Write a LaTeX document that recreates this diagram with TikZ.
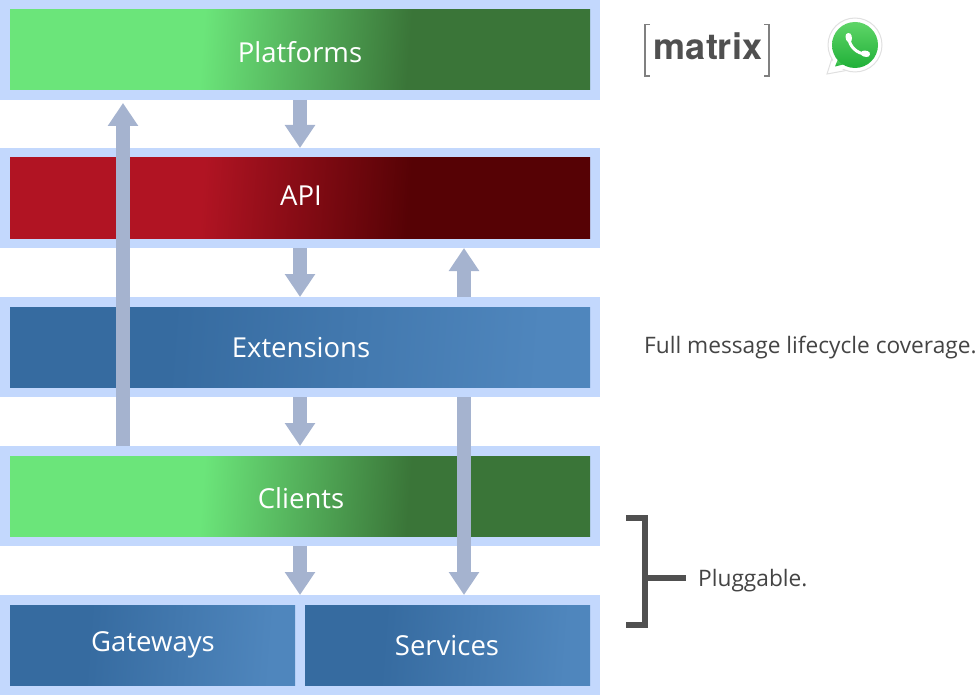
\documentclass[tikz,border=0pt]{standalone}
\usepackage{fontspec}
\setmainfont{Open Sans}
\newfontfamily\logofont{TeX Gyre Heros}
\usetikzlibrary{arrows.meta}

\definecolor{bandblue}{HTML}{C3D8FD}
\definecolor{flowblue}{HTML}{A5B3CF}
\definecolor{lightgreen}{HTML}{6BE57A}
\definecolor{darkgreen}{HTML}{3A7538}
\definecolor{lightred}{HTML}{B11423}
\definecolor{darkred}{HTML}{560205}
\definecolor{darkblue}{HTML}{366BA0}
\definecolor{lightblue}{HTML}{4F86BD}
\definecolor{textgrey}{HTML}{444444}
\definecolor{brackgrey}{HTML}{505050}
\definecolor{logotop}{HTML}{5FD568}
\definecolor{logobottom}{HTML}{20B038}

\pgfdeclarehorizontalshading{greenfade}{100bp}{color(0bp)=(lightgreen); color(41bp)=(lightgreen); color(60bp)=(darkgreen); color(100bp)=(darkgreen)}
\pgfdeclarehorizontalshading{redfade}{100bp}{color(0bp)=(lightred); color(41bp)=(lightred); color(60bp)=(darkred); color(100bp)=(darkred)}
\pgfdeclarehorizontalshading{bluefade}{100bp}{color(0bp)=(darkblue); color(38bp)=(darkblue); color(72bp)=(lightblue); color(100bp)=(lightblue)}

\tikzset{
  layerbar/.style={fill=bandblue, minimum width=600pt, minimum height=100pt, inner sep=0pt, outer sep=0pt},
  layerbox/.style={minimum width=#1, minimum height=80pt, inner sep=0pt, outer sep=0pt, shading angle=-4.4},
  layerbox/.default=580pt,
  layertext/.style={text=white, font=\fontsize{27.5}{32}\selectfont, inner sep=0pt},
  sidetext/.style={text=textgrey, font=\fontsize{22.7}{27}\selectfont, inner sep=0pt},
  flow/.style={draw=flowblue, line width=14pt, -{Triangle[length=23pt,width=29pt,fill=flowblue]}},
}

\begin{document}
\begin{tikzpicture}[x=1pt, y=-1pt]
  \useasboundingbox (0,0) rectangle (977,695);

  \node[layerbar] (platformsbar) at (300,50) {};
  \node[layerbar] (apibar) at (300,198) {};
  \node[layerbar] (extensionsbar) at (300,347) {};
  \node[layerbar] (clientsbar) at (300,496) {};
  \node[layerbar] (bottombar) at (300,645) {};

  \node[layerbox, shading=greenfade] (platforms) at (300,50) {};
  \node[layerbox, shading=redfade] (api) at (300,198) {};
  \node[layerbox, shading=bluefade] (extensions) at (300,347) {};
  \node[layerbox, shading=greenfade] (clients) at (300,496) {};
  \node[layerbox=285pt, shading=bluefade] (gateways) at (152.5,645) {};
  \node[layerbox=285pt, shading=bluefade] (services) at (447.5,645) {};

  \node[layertext] (platformstext) at (300,52) {Platforms};
  \node[layertext] (apitext) at (301,196) {API};
  \node[layertext] (extensionstext) at (301,348) {Extensions};
  \node[layertext] (clientstext) at (301,498) {Clients};
  \node[layertext] (gatewaystext) at (153,645) {Gateways};
  \node[layertext] (servicestext) at (447,646) {Services};

  % arrows
  \coordinate (upleft) at (123,0);
  \coordinate (upright) at (464,0);
  \draw[flow] (platformsbar.south) -- (apibar.north);
  \draw[flow] (apibar.south) -- (extensionsbar.north);
  \draw[flow] (extensionsbar.south) -- (clientsbar.north);
  \draw[flow] (clientsbar.south) -- (bottombar.north);
  \draw[flow] (clientsbar.north -| upleft) -- ([yshift=-3pt]platformsbar.south -| upleft);
  \draw[flow] (extensionsbar.north -| upright) -- (apibar.south -| upright);
  \draw[flow] (extensionsbar.south -| upright) -- (bottombar.north -| upright);

  \node[sidetext, anchor=west] (coverage) at (644,348) {Full message lifecycle coverage.};

  % bracket
  \node[sidetext, anchor=west] (pluggable) at (698,581) {Pluggable.};
  \coordinate (brackmid) at (645,578);
  \coordinate (brackend) at (686,578);
  \draw[brackgrey, line width=6pt] (626,518) -- (645,518) -- (645,625) -- (626,625);
  \draw[brackgrey, line width=6pt] (brackmid) -- (brackend);

  % matrix logo
  \node[text=brackgrey, font=\logofont\fontsize{36}{40}\selectfont\bfseries, inner sep=0pt, anchor=base] (matrix) at (708,60) {matrix};
  \draw[gray, line width=1.5pt] (650,24.5) -- (645,24.5) -- (645,76) -- (650,76);
  \draw[gray, line width=1.5pt] (764,24.5) -- (769,24.5) -- (769,76) -- (764,76);

  % whatsapp logo
  \filldraw[white, draw=black!12, line width=1pt] (827,74) -- (832,58) -- (849,70) -- cycle;
  \filldraw[white, draw=black!12, line width=1pt] (855,45) circle (27);
  \fill[white] (829.5,72) -- (834,58) -- (847,68) -- cycle;
  \shade[top color=logotop, bottom color=logobottom] (835,66.5) -- (838,59) -- (845,64) -- cycle;
  \shade[top color=logotop, bottom color=logobottom] (855,45) circle (23);
  \draw[white, line width=3pt] (849,38) .. controls (849,46) and (857,54) .. (866,54);
  \draw[white, line width=6pt, line cap=round] (848.5,36) -- (849,39);
  \draw[white, line width=6pt, line cap=round] (864,53.5) -- (867,54);
\end{tikzpicture}
\end{document}
